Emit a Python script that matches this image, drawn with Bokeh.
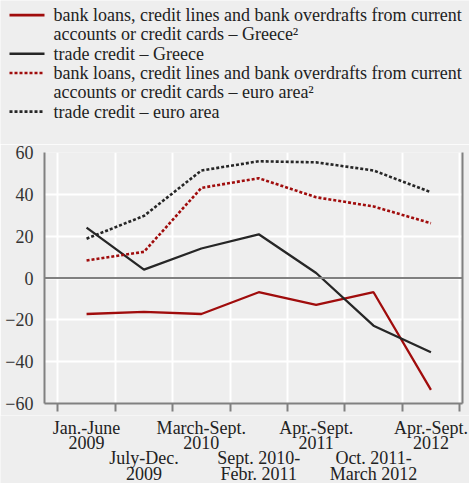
from bokeh.plotting import figure
from bokeh.models import Range1d, FixedTicker, LinearAxis, Span
from bokeh.layouts import column, row
from bokeh.embed import file_html
from bokeh.resources import INLINE
from bokeh.core.properties import value

# ---------------- data ----------------
cat_line1 = ["Jan.-June", "July-Dec.", "March-Sept.", "Sept. 2010-", "Apr.-Sept.", "Oct. 2011-", "Apr.-Sept."]
cat_line2 = ["2009", "2009", "2010", "Febr. 2011", "2011", "March 2012", "2012"]
bank_greece = [-17.2, -16.2, -17.2, -6.8, -12.9, -6.8, -53.5]
trade_greece = [24.1, 4.0, 14.1, 20.9, 2.4, -22.8, -35.5]
bank_euro = [8.4, 12.5, 43.1, 47.7, 38.6, 34.2, 26.2]
trade_euro = [18.8, 29.7, 51.4, 55.8, 55.3, 51.4, 41.0]
y_ticks = [-60, -40, -20, 0, 20, 40, 60]

legend_labels = [
    ["bank loans, credit lines and bank overdrafts from current", "accounts or credit cards \u2013 Greece\u00b2"],
    ["trade credit \u2013 Greece"],
    ["bank loans, credit lines and bank overdrafts from current", "accounts or credit cards \u2013 euro area\u00b2"],
    ["trade credit \u2013 euro area"],
]

# ---------------- styles ----------------
BG = "#eeeeee"
RED = "#a00c0c"
BLACK = "#262626"
GREY = "#808080"
TXT = "#222222"
FONT = "Liberation Serif"
series = [
    (bank_greece, RED, "solid", 2.3),
    (trade_greece, BLACK, "solid", 2.3),
    (bank_euro, RED, "3 2", 2.6),
    (trade_euro, BLACK, "3 2", 2.6),
]

W, H = 469, 483
LEG_H = 144
MAIN_TOP, FRAME_H, MAIN_BOTTOM = 8, 251, 12
MAIN_H = MAIN_TOP + FRAME_H + MAIN_BOTTOM
LAB_H = H - LEG_H - MAIN_H
BORDER_L, BORDER_R = 44, 7
FRAME_W = W - BORDER_L - BORDER_R

n = len(cat_line1)
xs = [i + 0.5 for i in range(n)]
x_start, x_end = -0.233, n + 0.05


def no_align(f):
    if "frame_align" in f.properties():
        f.frame_align = False
    return f


def bare(height, x_range, y_range):
    f = figure(width=W, height=height, output_backend="svg", toolbar_location=None,
               x_range=x_range, y_range=y_range, x_axis_type=None, y_axis_type=None,
               min_border=0, background_fill_color=BG, border_fill_color=BG,
               outline_line_color=None)
    f.grid.visible = False
    return no_align(f)


# ---------------- legend figure (pixel coordinates) ----------------
leg = bare(LEG_H, Range1d(0, W), Range1d(LEG_H, 0))
row_h = 19.3
r = 0
for (vals, color, dash, lw), lines in zip(series, legend_labels):
    yline = 14.65 + r * row_h
    leg.line([9, 44], [yline, yline], line_color=color, line_width=2.6, line_dash=dash)
    for k, txt in enumerate(lines):
        leg.text([53], [yline + k * row_h], text=[txt], text_font=value(FONT),
                 text_font_size="18px", text_color=TXT,
                 text_baseline="middle", text_align="left")
    r += len(lines)

# ---------------- main figure ----------------
p = figure(width=W, height=MAIN_H, output_backend="svg", toolbar_location=None,
           x_range=Range1d(x_start, x_end), y_range=Range1d(-60, 60),
           min_border_left=BORDER_L, min_border_right=BORDER_R,
           min_border_top=MAIN_TOP, min_border_bottom=MAIN_BOTTOM,
           background_fill_color=BG, border_fill_color=BG, outline_line_color=None)
no_align(p)

p.xaxis.ticker = FixedTicker(ticks=[], minor_ticks=list(range(n + 1)))
p.xaxis.minor_tick_out = 8
p.xaxis.minor_tick_in = 0
p.xaxis.minor_tick_line_color = GREY
p.xaxis.minor_tick_line_width = 2
p.xaxis.axis_line_color = GREY
p.xaxis.axis_line_width = 2
p.xaxis.major_label_standoff = 0

p.yaxis.ticker = FixedTicker(ticks=y_ticks)
p.yaxis.major_label_text_font = FONT
p.yaxis.major_label_text_font_size = "18px"
p.yaxis.major_label_text_color = "#333333"
p.yaxis.major_tick_in = 0
p.yaxis.major_tick_out = 0
p.yaxis.minor_tick_line_color = None
p.yaxis.axis_line_color = GREY
p.yaxis.axis_line_width = 2
p.yaxis.major_label_standoff = 11

right = LinearAxis(ticker=FixedTicker(ticks=[]), major_tick_in=0, major_tick_out=0,
                   minor_tick_line_color=None, axis_line_color=GREY, axis_line_width=2,
                   major_label_standoff=0)
p.add_layout(right, "right")

p.xgrid.ticker = FixedTicker(ticks=list(range(n + 1)))
p.xgrid.grid_line_color = "white"
p.xgrid.grid_line_width = 2
p.ygrid.grid_line_color = "white"
p.ygrid.grid_line_width = 2

p.add_layout(Span(location=0, dimension="width", line_color=GREY, line_width=2))

for vals, color, dash, lw in series:
    p.line(xs, vals, line_color=color, line_width=lw, line_dash=dash)

# ---------------- category label figure (shares the main x scale) ----------------
px_per = FRAME_W / (x_end - x_start)
lab = bare(LAB_H,
           Range1d(x_start - BORDER_L / px_per, x_end + BORDER_R / px_per),
           Range1d((LAB_H - 12) / 15.4, -12 / 15.4))
for i in range(n):
    base = 0 if i % 2 == 0 else 2
    lab.text([xs[i], xs[i]], [base, base + 1], text=[cat_line1[i], cat_line2[i]],
             text_font=value(FONT), text_font_size="18px", text_color=TXT,
             text_align="center", text_baseline="middle")

if "frame_align" in p.properties():
    layout = column(leg, p, lab, spacing=0)
else:
    layout = column(row(leg), p, row(lab), spacing=0)
html = file_html(layout, INLINE)
html = html.replace("<body>", '<body style="background-color:#eeeeee;">', 1)
open("out.html", "w").write(html)
